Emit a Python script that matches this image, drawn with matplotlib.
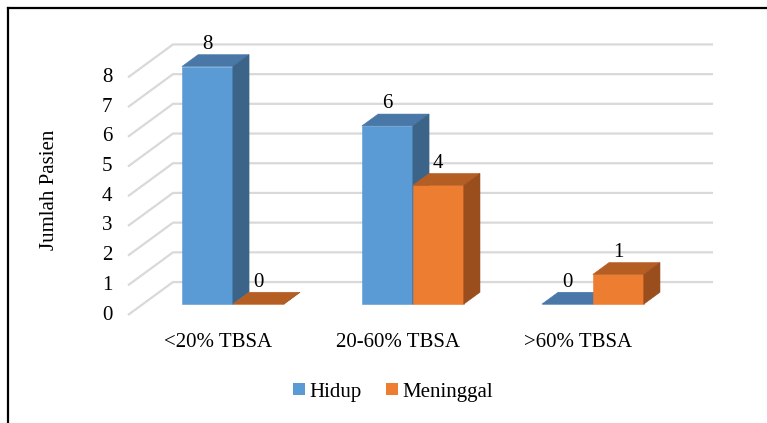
import matplotlib
matplotlib.use('Agg')
import matplotlib.pyplot as plt
from matplotlib.patches import Polygon, Patch
from matplotlib.lines import Line2D

plt.rcParams['font.family'] = ['Liberation Serif', 'DejaVu Serif']

categories = ['<20% TBSA', '20-60% TBSA', '>60% TBSA']
hidup = [8, 6, 0]
meninggal = [0, 4, 1]
yticks = [0, 1, 2, 3, 4, 5, 6, 7, 8]

# oblique "3d" projection: full depth shifts by (ddx categories, ddy value units)
ddx, ddy = 0.25, 1.11
d0, d1 = 0.33, 0.69  # front / back depth of bars
bw = 0.283          # bar width in category units

W, H = 767, 423
fig = plt.figure(figsize=(W / 100, H / 100), dpi=100)
ax = fig.add_axes([0, 0, 1, 1])
# pixel mapping: x=-0.5 at px 128, 180 px/category; y=0 at px 315, 29.7 px/unit
ax.set_xlim((0 - 128) / 180 - 0.5, (W - 128) / 180 - 0.5)
ax.set_ylim((315 - H) / 29.7, 315 / 29.7)
ax.axis('off')


def P(x, y, d):
    return (x + ddx * d, y + ddy * d)


grid_c = '#D9D9D9'
n = len(categories)
for v in yticks:
    x0, y0 = P(-0.5, v, 0)
    x1, y1 = P(-0.5, v, 1)
    x2, y2 = P(n - 0.5, v, 1)
    ax.plot([x0, x1, x2], [y0, y1, y2], color=grid_c, lw=1.6, solid_capstyle='butt', zorder=1)
    ax.text(-0.617, v, str(v), ha='center', va='center', fontsize=15)

colors = {
    'blue': ('#5B9BD5', '#4877A8', '#3B6488'),
    'orange': ('#ED7D31', '#B55E24', '#9A4D1D'),
}


def bar3d(xl, v, cols, z):
    front, top, side = cols
    xr = xl + bw
    faces = [
        ([P(xl, 0, d0), P(xr, 0, d0), P(xr, v, d0), P(xl, v, d0)], front),
        ([P(xl, v, d0), P(xr, v, d0), P(xr, v, d1), P(xl, v, d1)], top),
        ([P(xr, 0, d0), P(xr, 0, d1), P(xr, v, d1), P(xr, v, d0)], side),
    ]
    for pts, c in faces:
        ax.add_patch(Polygon(pts, closed=True, facecolor=c, edgecolor=c, lw=0.4, zorder=z))
    lx, _ = P(xl + bw / 2, v, d0)
    _, ly = P(xl, v, d1)
    ax.text(lx, ly + 0.34, str(v), ha='center', va='center', fontsize=15, zorder=z + 1)


for i in range(n):
    bar3d(i - bw, hidup[i], colors['blue'], 2 + 2 * i)
    bar3d(i, meninggal[i], colors['orange'], 3 + 2 * i)
    ax.text(i, -0.91, categories[i], ha='center', va='center', fontsize=15)

fig.text(50 / W, 1 - 190 / H, 'Jumlah Pasien', rotation=90, ha='center', va='center', fontsize=15)

handles = [Patch(facecolor=colors['blue'][0]), Patch(facecolor=colors['orange'][0])]
fig.legend(handles, ['Hidup', 'Meninggal'], loc='center', bbox_to_anchor=(393 / W, 1 - 392 / H),
           ncol=2, frameon=False, fontsize=15, handlelength=0.55, handleheight=0.55,
           handletextpad=0.2, columnspacing=1.2)

# frame border (left and top)
fig.add_artist(Line2D([8 / W, 8 / W], [0, 1 - 8 / H], color='black', lw=1.6, transform=fig.transFigure))
fig.add_artist(Line2D([8 / W, 1], [1 - 8 / H, 1 - 8 / H], color='black', lw=1.6, transform=fig.transFigure))

fig.savefig('out.png', dpi=100)
